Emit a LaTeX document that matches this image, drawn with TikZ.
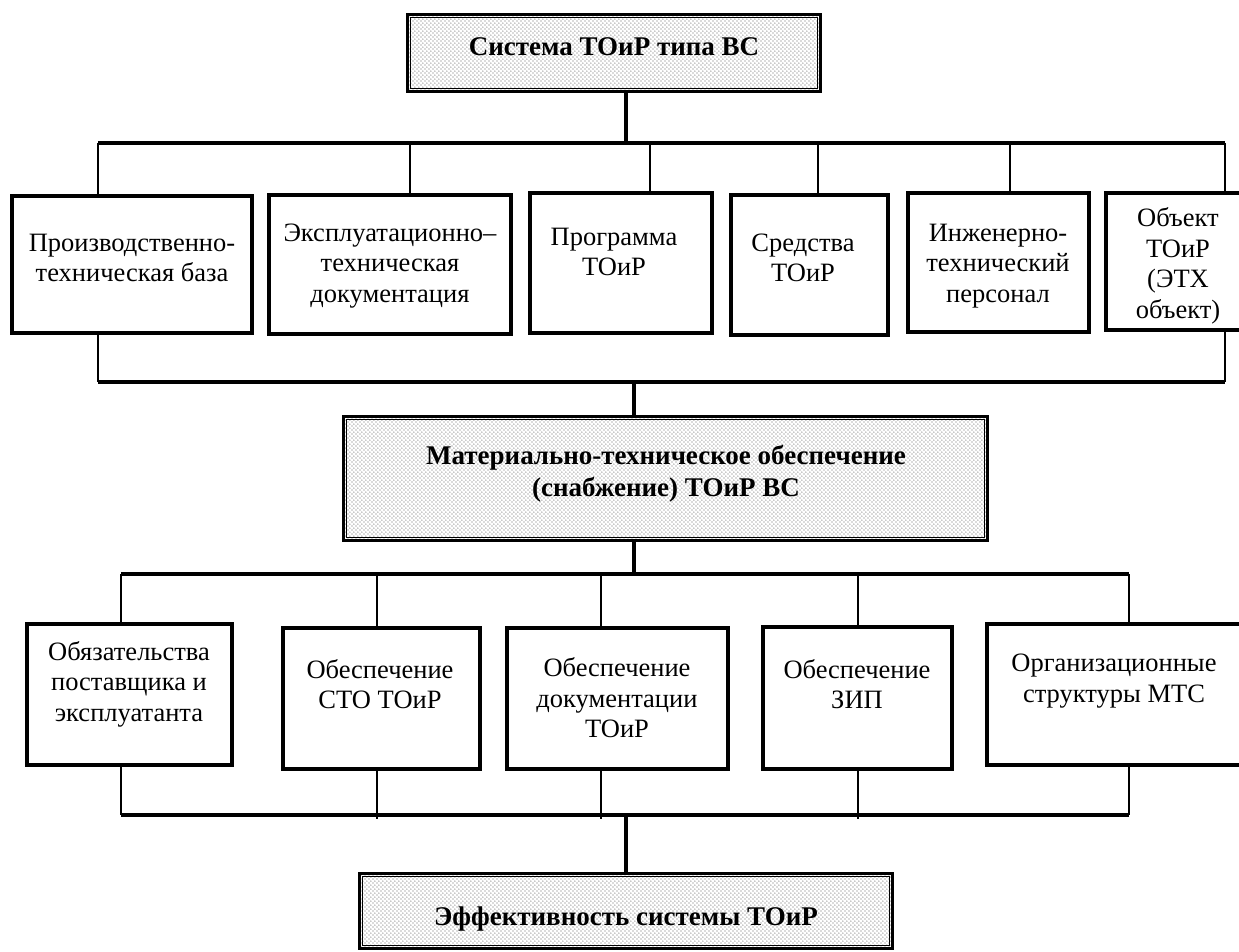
\documentclass[tikz,border=0pt]{standalone}
\usepackage{fontspec}
\setmainfont{Liberation Serif}
\usetikzlibrary{patterns}
\pgfdeclarepatternformonly{tdots}{\pgfqpoint{0pt}{0pt}}{\pgfqpoint{4.4pt}{4.4pt}}{\pgfqpoint{4.4pt}{4.4pt}}{%
  \pgfpathcircle{\pgfqpoint{1.1pt}{1.1pt}}{0.7pt}%
  \pgfpathcircle{\pgfqpoint{3.3pt}{3.3pt}}{0.7pt}%
  \pgfusepath{fill}}
\tikzset{
  pbox/.style={draw, line width=4pt, inner sep=0pt},
  ptxt/.style={align=center, inner sep=0pt, font=\fontsize{26.5}{30.5}\selectfont},
  btxt/.style={align=center, inner sep=0pt, font=\fontsize{27}{32}\selectfont\bfseries},
  shbox/.style={draw, line width=3pt, inner sep=0pt, preaction={fill=white}, pattern=tdots, pattern color=black!60},
  innerline/.style={line width=1.3pt},
  bus/.style={line width=3.5pt},
  drop/.style={line width=1.7pt},
}
\begin{document}
\begin{tikzpicture}[x=1pt,y=-1pt]
\useasboundingbox (0,0) rectangle (1239,952);
\clip (0,0) rectangle (1239,952);

% ---------- top box
\node[shbox, minimum width=413pt, minimum height=77pt] (sys) at (614,53) {};
\draw[innerline] ([xshift=4.5pt,yshift=-4.5pt]sys.north west) rectangle ([xshift=-4.5pt,yshift=4.5pt]sys.south east);
\node[btxt] (systxt) at (614,47) {Система ТОиР типа ВС};

% ---------- top row boxes
\node[pbox, minimum width=240pt, minimum height=137pt] (p1) at (132,264.5) {};
\node[pbox, minimum width=242pt, minimum height=139pt] (p2) at (390,264.5) {};
\node[pbox, minimum width=182pt, minimum height=140pt] (p3) at (621,263) {};
\node[pbox, minimum width=157pt, minimum height=140pt] (p4) at (809.5,265) {};
\node[pbox, minimum width=181pt, minimum height=139pt] (p5) at (998.5,262.5) {};
\node[pbox, minimum width=144pt, minimum height=137pt] (p6) at (1178,261.5) {};

\node[ptxt] (t1) at (132,258) {Производственно-\\техническая база};
\node[ptxt] (t2) at (390,266) {Эксплуатационно–\\техническая\\документация};
\node[ptxt] (t3) at (614,252) {Программа\\ТОиР};
\node[ptxt] (t4) at (803,258) {Средства\\ТОиР};
\node[ptxt] (t5) at (998,266) {Инженерно-\\технический\\персонал};
\node[ptxt] (t6) at (1178,266) {Объект\\ТОиР\\(ЭТХ\\объект)};

% top bus
\coordinate (tbL) at (98,143);
\coordinate (tbR) at (1225,143);
\coordinate (ts) at (626,143);
\draw[bus] (tbL) -- (tbR);
\draw[bus] (ts |- sys.south) -- (ts);
\coordinate (d1) at (98,143);
\coordinate (d2) at (410,143);
\coordinate (d3) at (650,143);
\coordinate (d4) at (818,143);
\coordinate (d5) at (1010,143);
\coordinate (d6) at (1225,143);
\draw[drop] (d1) -- (d1 |- p1.north);
\draw[drop] (d2) -- (d2 |- p2.north);
\draw[drop] (d3) -- (d3 |- p3.north);
\draw[drop] (d4) -- (d4 |- p4.north);
\draw[drop] (d5) -- (d5 |- p5.north);
\draw[drop] (d6) -- (d6 |- p6.north);

% lower bus of top row
\coordinate (lbL) at (98,382);
\coordinate (lbR) at (1225,382);
\coordinate (ls) at (634,382);
\draw[bus] (lbL) -- (lbR);
\draw[drop] (lbL |- p1.south) -- (lbL);
\draw[drop] (lbR |- p6.south) -- (lbR);

% ---------- middle box
\node[shbox, minimum width=644pt, minimum height=124pt] (mto) at (665.5,478.5) {};
\draw[innerline] ([xshift=4.5pt,yshift=-4.5pt]mto.north west) rectangle ([xshift=-4.5pt,yshift=4.5pt]mto.south east);
\node[btxt] (mtotxt) at (666,474) {Материально-техническое обеспечение\\(снабжение) ТОиР ВС};
\draw[bus] (ls) -- (ls |- mto.north);

% middle bus
\coordinate (mbL) at (121,574);
\coordinate (mbR) at (1129,574);
\coordinate (ms) at (634,574);
\draw[bus] (mbL) -- (mbR);
\draw[bus] (ms |- mto.south) -- (ms);

% ---------- bottom row boxes
\node[pbox, minimum width=205pt, minimum height=141pt] (q1) at (129.5,694.5) {};
\node[pbox, minimum width=197pt, minimum height=141pt] (q2) at (381.5,698.5) {};
\node[pbox, minimum width=221pt, minimum height=141pt] (q3) at (617.5,698.5) {};
\node[pbox, minimum width=189pt, minimum height=142pt] (q4) at (857.5,698) {};
\node[pbox, minimum width=254pt, minimum height=141pt] (q5) at (1114,694.5) {};

\node[ptxt] (u1) at (129,684) {Обязательства\\поставщика и\\эксплуатанта};
\node[ptxt] (u2) at (380,684) {Обеспечение\\СТО ТОиР};
\node[ptxt] (u3) at (617,698) {Обеспечение\\документации\\ТОиР};
\node[ptxt] (u4) at (857,684) {Обеспечение\\ЗИП};
\node[ptxt] (u5) at (1114,681) {Организационные\\структуры МТС};

\coordinate (e1) at (121,574);
\coordinate (e2) at (377,574);
\coordinate (e3) at (601,574);
\coordinate (e4) at (858,574);
\coordinate (e5) at (1129,574);
\draw[drop] (e1) -- (e1 |- q1.north);
\draw[drop] (e2) -- (e2 |- q2.north);
\draw[drop] (e3) -- (e3 |- q3.north);
\draw[drop] (e4) -- (e4 |- q4.north);
\draw[drop] (e5) -- (e5 |- q5.north);

% bottom bus
\coordinate (bbL) at (121,815);
\coordinate (bbR) at (1129,815);
\coordinate (bs) at (626,815);
\coordinate (f2) at (377,819);
\coordinate (f3) at (601,819);
\coordinate (f4) at (858,819);
\draw[bus] (bbL) -- (bbR);
\draw[drop] (bbL |- q1.south) -- (bbL);
\draw[drop] (f2 |- q2.south) -- (f2);
\draw[drop] (f3 |- q3.south) -- (f3);
\draw[drop] (f4 |- q4.south) -- (f4);
\draw[drop] (bbR |- q5.south) -- (bbR);

% ---------- bottom box
\node[shbox, minimum width=533pt, minimum height=75pt] (eff) at (626,911) {};
\draw[innerline] ([xshift=4.5pt,yshift=-4.5pt]eff.north west) rectangle ([xshift=-4.5pt,yshift=4.5pt]eff.south east);
\node[btxt] (efftxt) at (626,919) {Эффективность системы ТОиР};
\draw[bus] (bs) -- (bs |- eff.north);
\end{tikzpicture}
\end{document}
